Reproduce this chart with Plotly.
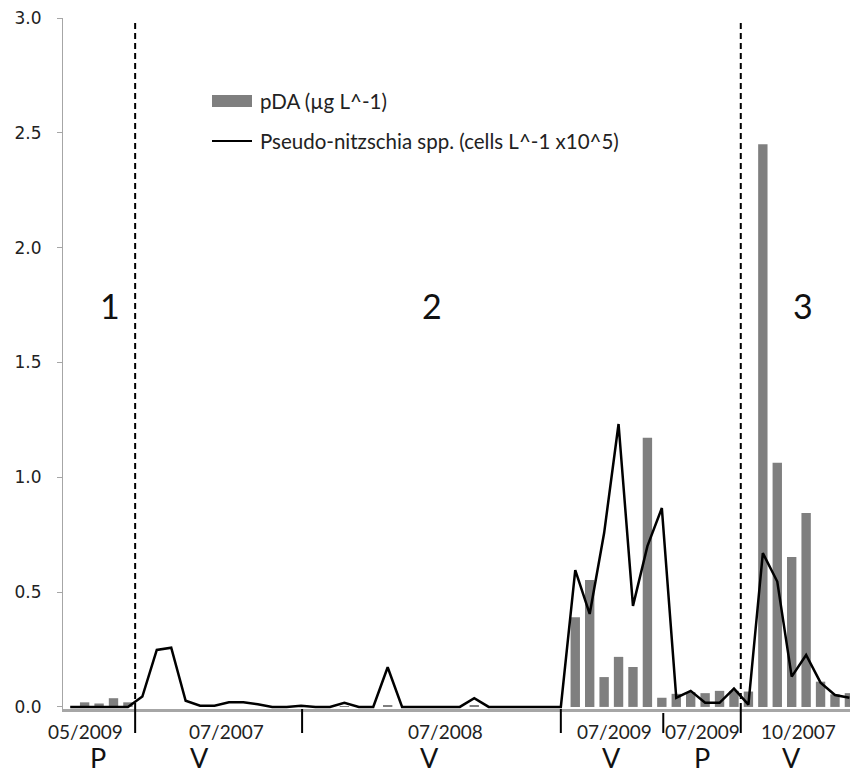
import plotly.graph_objects as go

# ---- data ----
sample_index = list(range(55))
pda = [0, 0.02, 0.015, 0.038, 0.02,
       0, 0, 0, 0, 0, 0, 0, 0, 0, 0, 0, 0, 0, 0, 0.003, 0, 0,
       0.005, 0, 0, 0, 0, 0, 0.005, 0, 0, 0, 0, 0, 0,
       0.39, 0.553, 0.13, 0.218, 0.174, 1.172, 0.04,
       0.057, 0.065, 0.06, 0.07, 0.07,
       0.067, 2.45, 1.063, 0.653, 0.844, 0.11, 0.055, 0.06]
cells = [0, 0, 0, 0, 0,
         0.045, 0.248, 0.258, 0.027, 0.005, 0.005, 0.02, 0.02, 0.012, 0, 0, 0.005, 0, 0, 0.018, 0, 0,
         0.173, 0, 0, 0, 0, 0, 0.038, 0, 0, 0, 0, 0, 0,
         0.596, 0.405, 0.757, 1.232, 0.44, 0.70, 0.866,
         0.04, 0.07, 0.018, 0.018, 0.08,
         0.01, 0.67, 0.546, 0.132, 0.226, 0.106, 0.052, 0.04]
group_dates = ["05/2009", "07/2007", "07/2008", "07/2009", "07/2009", "10/2007"]
group_types = ["P", "V", "V", "V", "P", "V"]
zone_labels = ["1", "2", "3"]
legend_names = ["pDA (µg L^-1)", "Pseudo-nitzschia spp. (cells L^-1 x10^5)"]

W, H = 850, 776
L, R, T, B = 63, 0, 18, 67
PW, PH = W - L - R, H - T - B

def px(x):
    return (x - L) / PW

def py(y):
    return (H - B - y) / PH

FONT = "Lato, 'Open Sans', sans-serif"

fig = go.Figure()
fig.add_trace(go.Bar(x=sample_index, y=pda, name=legend_names[0],
                     marker=dict(color="#7f7f7f", line=dict(width=0)),
                     width=0.65, showlegend=False))
fig.add_trace(go.Scatter(x=sample_index, y=cells, name=legend_names[1], mode="lines",
                         line=dict(color="black", width=2.5), showlegend=False))

shapes = []
# dashed zone separators
for xv in [4.5, 46.47]:
    shapes.append(dict(type="line", xref="x", yref="paper", x0=xv, x1=xv,
                       y0=0, y1=py(21), line=dict(color="black", width=2, dash="6px,4px")))
# group separators below the axis
for xv, ytop in [(4.5, 709), (16.07, 709), (34.0, 709), (41.1, 713), (46.47, 709)]:
    shapes.append(dict(type="line", xref="x", yref="paper", x0=xv, x1=xv,
                       y0=py(ytop), y1=py(733), line=dict(color="black", width=2)))
# custom legend keys
shapes.append(dict(type="rect", xref="paper", yref="paper", x0=px(212), x1=px(252),
                   y0=py(107), y1=py(95), fillcolor="#7f7f7f", line=dict(width=0)))
shapes.append(dict(type="line", xref="paper", yref="paper", x0=px(212), x1=px(252),
                   y0=py(141), y1=py(141), line=dict(color="black", width=2)))

ann = []
ann.append(dict(x=px(258), y=py(101), xref="paper", yref="paper", text=legend_names[0],
                showarrow=False, xanchor="left", yanchor="middle", font=dict(size=20.5, color="#222")))
ann.append(dict(x=px(258), y=py(141), xref="paper", yref="paper", text=legend_names[1],
                showarrow=False, xanchor="left", yanchor="middle", font=dict(size=20.5, color="#222")))

date_pos = [1.03, 10.8, 26.0, 37.7, 43.85, 50.5]
type_pos = [1.93, 8.93, 24.9, 37.5, 43.8, 50.0]
for t, xv in zip(group_dates, date_pos):
    ann.append(dict(x=xv, y=py(732), xref="x", yref="paper", text=t, showarrow=False,
                    xanchor="center", yanchor="middle", font=dict(size=19, color="#222")))
for t, xv in zip(group_types, type_pos):
    ann.append(dict(x=xv, y=py(776), xref="x", yref="paper", text=t, showarrow=False,
                    xanchor="center", yanchor="bottom", font=dict(size=27, color="#111")))
for t, xv in zip(zone_labels, [2.77, 25.1, 50.8]):
    ann.append(dict(x=xv, y=py(305), xref="x", yref="paper", text=t, showarrow=False,
                    xanchor="center", yanchor="middle", font=dict(size=34, color="#111")))

fig.update_layout(
    width=W, height=H, margin=dict(l=L, r=R, t=T, b=B),
    paper_bgcolor="white", plot_bgcolor="white",
    font=dict(family=FONT, color="#222"),
    bargap=0.35, shapes=shapes, annotations=ann, showlegend=False,
    xaxis=dict(range=[-0.5, 54.04], showticklabels=False, ticks="", showgrid=False,
               zeroline=False, showline=True, linecolor="#a6a6a6", linewidth=3),
    yaxis=dict(range=[-0.009, 3.0], dtick=0.5, tick0=0, tickformat=".1f", showgrid=False,
               zeroline=False, showline=True, linecolor="#a6a6a6", linewidth=1,
               ticks="outside", ticklen=5, tickcolor="#a6a6a6", ticklabelstandoff=12,
               tickfont=dict(family="'DejaVu Sans', Verdana, sans-serif", size=17, color="#222")),
)

fig.write_html("out.html")
